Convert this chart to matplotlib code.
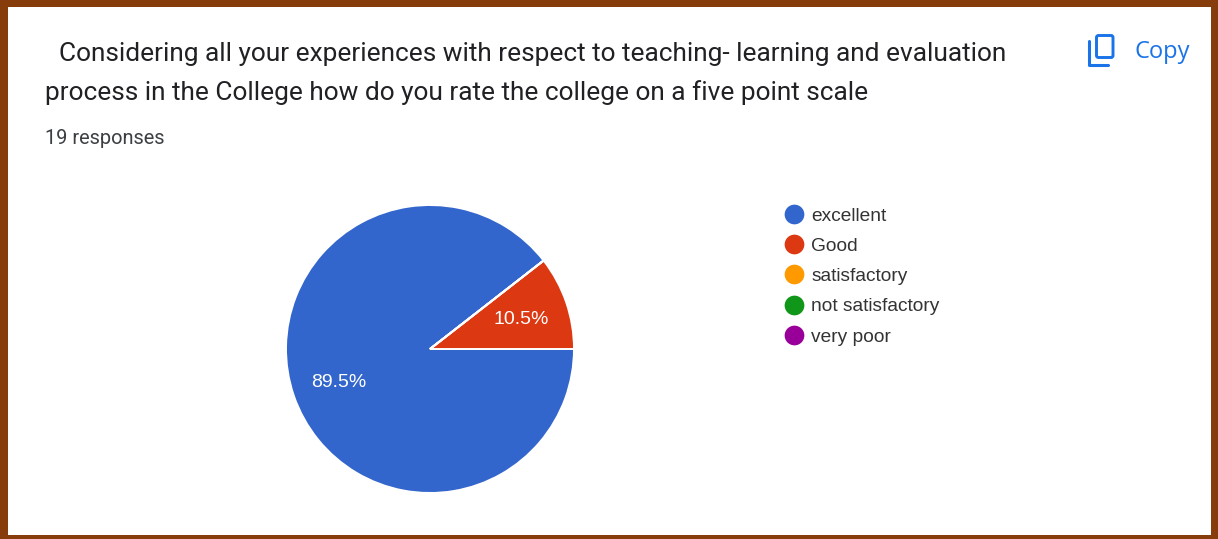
import matplotlib
matplotlib.use("Agg")
import matplotlib.pyplot as plt
from matplotlib.lines import Line2D
from matplotlib.patches import FancyBboxPatch, Rectangle

W, H = 1218, 539

categories = ["excellent", "Good", "satisfactory", "not satisfactory", "very poor"]
responses = [17, 2, 0, 0, 0]
colors = ["#3366cc", "#dc3912", "#ff9900", "#109618", "#990099"]

title_1 = "Considering all your experiences with respect to teaching- learning and evaluation"
title_2 = "process in the College how do you rate the college on a five point scale"
sub_text = "19 responses"

BORDER = "#873c0c"
BLUE = "#1a73e8"


def pct_label(p):
    return f"{p:.1f}%" if p > 0 else ""


fig = plt.figure(figsize=(W / 100, H / 100), dpi=100, facecolor="white")

# overlay in pixel coords, y down
bg = fig.add_axes([0, 0, 1, 1])
bg.set_xlim(0, W)
bg.set_ylim(H, 0)
bg.axis("off")

# border
bg.add_patch(Rectangle((0, 0), W, 7, color=BORDER, lw=0))
bg.add_patch(Rectangle((0, H - 4), W, 4, color=BORDER, lw=0))
bg.add_patch(Rectangle((0, 0), 8, H, color=BORDER, lw=0))
bg.add_patch(Rectangle((W - 7, 0), 7, H, color=BORDER, lw=0))

bg.text(59, 54.5, title_1, fontsize=18.9, family="Roboto", color="#202124", va="center")
bg.text(45, 92.5, title_2, fontsize=18.9, family="Roboto", color="#202124", va="center")
bg.text(45, 138.5, sub_text, fontsize=14.4, family="Roboto", color="#3c4043", va="center")

# copy icon
bg.add_patch(FancyBboxPatch((1096.5, 35.5), 16.5, 22, boxstyle="round,pad=0,rounding_size=2",
                            fc="none", ec=BLUE, lw=2.1))
bg.plot([1088.5, 1088.5, 1108], [41, 64.5, 64.5], color=BLUE, lw=2.2, solid_capstyle="round")
bg.text(1134, 51.5, "Copy", fontsize=17, family="Open Sans", color=BLUE, va="center")

# pie, centre (430, 349) radius 144
R = 144
ax = fig.add_axes([(430 - R) / W, 1 - (349 + R) / H, 2 * R / W, 2 * R / H])
wedges, _, autotexts = ax.pie(responses, colors=colors, startangle=37.9, radius=1,
                              autopct=pct_label, pctdistance=0.67,
                              wedgeprops=dict(edgecolor="white", linewidth=1.4),
                              textprops=dict(color="white", fontsize=14, family="Liberation Sans"))
for t in autotexts:
    t.set_y(t.get_position()[1] - 0.012)
ax.set_xlim(-1, 1)
ax.set_ylim(-1, 1)

handles = [Line2D([], [], ls="none", marker="o", ms=14.2, color=c, mec="none") for c in colors]
leg = fig.legend(handles, categories, loc="upper left", bbox_to_anchor=(761.5 / W, 1 - 190 / H),
                 frameon=False, prop=dict(family="Liberation Sans", size=13.8),
                 labelspacing=0.67, handletextpad=0.1, handlelength=1.6, borderpad=0.4,
                 labelcolor="#333333")

fig.savefig("out.png", dpi=100)
